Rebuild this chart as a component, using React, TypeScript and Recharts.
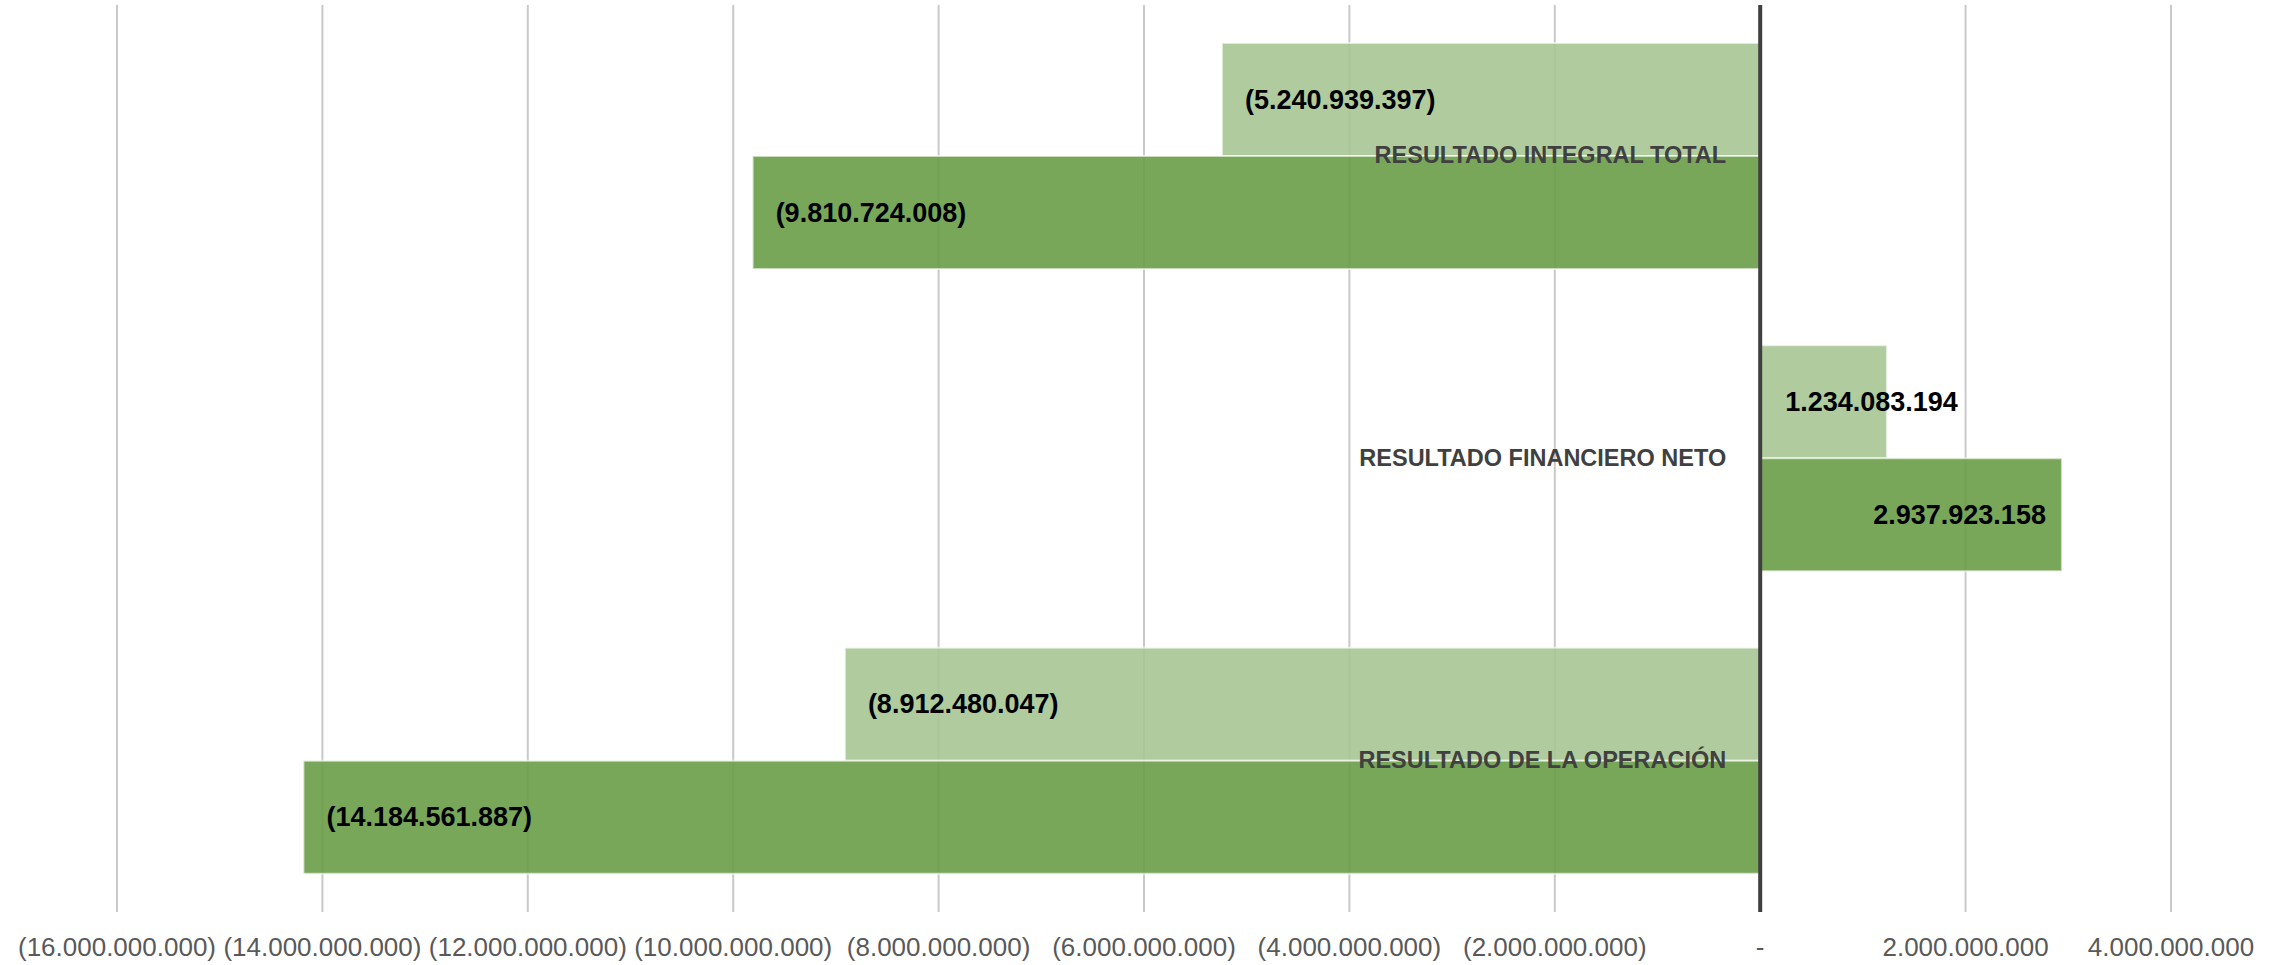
import { BarChart, Bar, XAxis, YAxis, CartesianGrid, ReferenceLine, ReferenceDot, LabelList, Label } from 'recharts';

const categories = ['RESULTADO INTEGRAL TOTAL', 'RESULTADO FINANCIERO NETO', 'RESULTADO DE LA OPERACIÓN'];
const lightValues = [-5240939397, 1234083194, -8912480047];
const darkValues = [-9810724008, 2937923158, -14184561887];
const xTicks = [-16e9, -14e9, -12e9, -10e9, -8e9, -6e9, -4e9, -2e9, 0, 2e9, 4e9];

const data = categories.map((name, i) => ({ name, light: lightValues[i], dark: darkValues[i] }));

const FONT = '"Liberation Sans", Arial, sans-serif';

function fmt(v: number) {
  if (v === 0) return '-';
  const s = Math.round(Math.abs(v)).toString().replace(/\B(?=(\d{3})+(?!\d))/g, '.');
  return v < 0 ? `(${s})` : s;
}

// excel-like "inside end" labels, falls back to inside base when the bar is short
const renderValue = (props: any) => {
  const { x, y, width, height, value } = props;
  const left = Math.min(x, x + width);
  const right = Math.max(x, x + width);
  const cy = y + height / 2;
  let tx = left + 23;
  let anchor: 'start' | 'end' = 'start';
  if (value > 0) {
    if (right - left > 200) {
      tx = right - 16;
      anchor = 'end';
    } else {
      tx = left + 25;
    }
  }
  return (
    <text x={tx} y={cy} textAnchor={anchor} dominantBaseline="central" fill="#000" fontSize={27} fontWeight="bold" fontFamily={FONT}>
      {fmt(value)}
    </text>
  );
};

export default function App() {
  return (
    <div style={{ position: 'absolute', left: 0, top: 0, background: '#fff' }}>
      <BarChart
        width={2285}
        height={965}
        data={data}
        layout="vertical"
        margin={{ top: 5, right: 114, left: 117, bottom: 0 }}
        barGap={0}
        barSize={113}
      >
        <CartesianGrid horizontal={false} stroke="#c9c9c9" strokeWidth={2} />
        <XAxis
          type="number"
          domain={[-16e9, 4e9]}
          ticks={xTicks}
          tickFormatter={fmt}
          axisLine={false}
          tickLine={false}
          tickSize={0}
          tickMargin={26}
          height={53}
          interval={0}
          tick={{ fill: '#595959', fontSize: 26, fontFamily: FONT }}
        />
        <YAxis type="category" dataKey="name" hide />
        <Bar dataKey="light" fill="#a7c794" fillOpacity={0.9} stroke="#ffffff" strokeOpacity={0.6} strokeWidth={2} isAnimationActive={false}>
          <LabelList dataKey="light" content={renderValue} />
        </Bar>
        <Bar dataKey="dark" fill="#6a9d48" fillOpacity={0.9} stroke="#ffffff" strokeOpacity={0.6} strokeWidth={2} isAnimationActive={false}>
          <LabelList dataKey="dark" content={renderValue} />
        </Bar>
        <ReferenceLine x={0} stroke="#404040" strokeWidth={4} />
        {categories.map((c) => (
          <ReferenceDot key={c} x={0} y={c} r={0} fill="none" stroke="none">
            <Label
              content={(p: any) => (
                <text
                  x={p.viewBox.x - 34}
                  y={p.viewBox.y + p.viewBox.height / 2 - 1}
                  textAnchor="end"
                  dominantBaseline="central"
                  fill="#404040"
                  fontSize={23.5}
                  fontWeight="bold"
                  fontFamily={FONT}
                >
                  {c}
                </text>
              )}
            />
          </ReferenceDot>
        ))}
      </BarChart>
    </div>
  );
}
